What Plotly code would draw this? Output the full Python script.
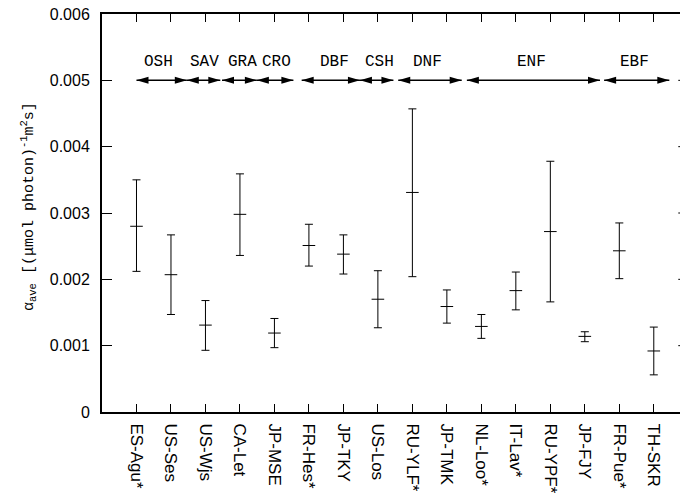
import plotly.graph_objects as go

# Sites and light-use efficiency statistics (mean, upper and lower bounds)
sites = ["ES-Agu*", "US-Ses", "US-Wjs", "CA-Let", "JP-MSE", "FR-Hes*", "JP-TKY",
         "US-Los", "RU-YLF*", "JP-TMK", "NL-Loo*", "IT-Lav*", "RU-YPF*", "JP-FJY",
         "FR-Pue*", "TH-SKR"]
alpha_mean = [0.00280, 0.00207, 0.00131, 0.00298, 0.00119, 0.00251, 0.00238, 0.00170,
              0.00331, 0.00159, 0.00129, 0.00183, 0.00272, 0.00114, 0.00243, 0.00092]
alpha_upper = [0.00350, 0.00267, 0.00168, 0.00359, 0.00141, 0.00283, 0.00267, 0.00213,
               0.00457, 0.00184, 0.00147, 0.00211, 0.00378, 0.00121, 0.00285, 0.00128]
alpha_lower = [0.00212, 0.00147, 0.00093, 0.00236, 0.00097, 0.00220, 0.00208, 0.00127,
               0.00204, 0.00134, 0.00111, 0.00154, 0.00166, 0.00106, 0.00201, 0.00056]

# Vegetation-type groups spanning the sites
groups = ["OSH", "SAV", "GRA", "CRO", "DBF", "CSH", "DNF", "ENF", "EBF"]
group_start = [1.00, 2.46, 3.48, 4.49, 5.79, 7.48, 8.59, 10.58, 14.56]
group_end = [2.46, 3.43, 4.49, 5.55, 7.48, 8.45, 10.43, 14.44, 16.45]
group_label_x = [1.64, 2.96, 4.06, 5.07, 6.75, 8.06, 9.44, 12.46, 15.45]
group_arrow_y = 0.005
group_label_y = 0.00528

y_ticks = [0, 0.001, 0.002, 0.003, 0.004, 0.005, 0.006]
y_tick_text = ["0", "0.001", "0.002", "0.003", "0.004", "0.005", "0.006"]

positions = list(range(1, len(sites) + 1))
x_frame_end = len(sites) + 1
x_view = [0, 16.76]

err_plus = [u - m for u, m in zip(alpha_upper, alpha_mean)]
err_minus = [m - l for m, l in zip(alpha_mean, alpha_lower)]

fig = go.Figure()
fig.add_trace(go.Scatter(
    x=positions, y=alpha_mean, mode="markers",
    marker=dict(symbol="line-ew", size=9, color="black",
                line=dict(width=1, color="black")),
    error_y=dict(type="data", symmetric=False, array=err_plus, arrayminus=err_minus,
                 width=4, thickness=1, color="black"),
    showlegend=False, hoverinfo="skip",
))

shapes = []
mono = "Liberation Mono, Courier New, monospace"
annotations = []
for name, s, e, lx in zip(groups, group_start, group_end, group_label_x):
    shapes.append(dict(type="line", xref="x", yref="y", x0=s, x1=e,
                       y0=group_arrow_y, y1=group_arrow_y,
                       line=dict(color="black", width=1.5)))
    # arrowheads at both ends
    shapes.append(dict(type="path", xref="x", yref="y", xsizemode="pixel",
                       ysizemode="pixel", xanchor=e, yanchor=group_arrow_y,
                       path="M0,0 L-12,3.5 L-12,-3.5 Z",
                       fillcolor="black", line=dict(width=0)))
    shapes.append(dict(type="path", xref="x", yref="y", xsizemode="pixel",
                       ysizemode="pixel", xanchor=s, yanchor=group_arrow_y,
                       path="M0,0 L12,3.5 L12,-3.5 Z",
                       fillcolor="black", line=dict(width=0)))
    annotations.append(dict(x=lx, y=group_label_y, xref="x", yref="y", text=name,
                            showarrow=False, font=dict(family=mono, size=16, color="black")))

# inward ticks of the right-hand frame
for v in y_ticks[1:-1]:
    shapes.append(dict(type="line", xref="x", yref="y",
                       x0=x_frame_end - 0.29, x1=x_frame_end, y0=v, y1=v,
                       line=dict(color="black", width=1)))

annotations.append(dict(
    x=-0.128, y=0.515, xref="paper", yref="paper", textangle=-90,
    text="α<sub>ave</sub> [(μmol photon)<sup>-1</sup>m<sup>2</sup>s]",
    showarrow=False, font=dict(family=mono, size=15, color="black"),
    xanchor="center", yanchor="middle"))

fig.update_layout(
    width=680, height=494,
    margin=dict(l=102, r=0, t=14, b=82),
    paper_bgcolor="white", plot_bgcolor="white",
    shapes=shapes, annotations=annotations,
    xaxis=dict(range=x_view, tickvals=positions, ticktext=sites, tickangle=90,
               ticks="inside", ticklen=8, tickwidth=1, tickcolor="black",
               showline=True, linewidth=2, linecolor="black", mirror="ticks",
               showgrid=False, zeroline=False, ticklabelstandoff=6,
               tickfont=dict(family="Liberation Sans, Arial, sans-serif", size=17,
                             color="black")),
    yaxis=dict(range=[0, 0.006], tickvals=y_ticks, ticktext=y_tick_text,
               ticks="inside", ticklen=10, tickwidth=1, tickcolor="black",
               showline=True, linewidth=2, linecolor="black",
               showgrid=False, zeroline=False, ticklabelstandoff=7,
               tickfont=dict(family="Liberation Sans, Arial, sans-serif", size=16,
                             color="black")),
)

fig.write_html("out.html")
